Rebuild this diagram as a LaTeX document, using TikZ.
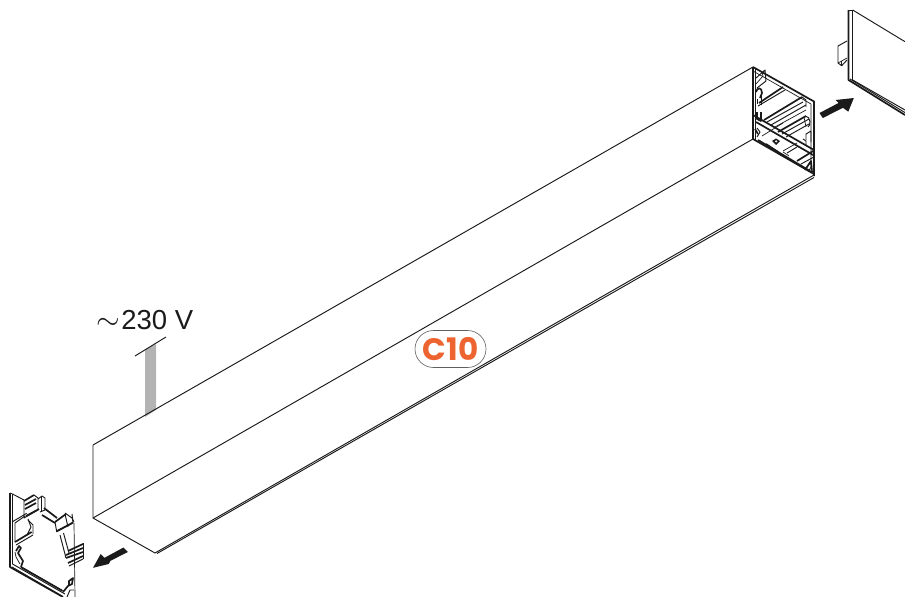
\documentclass[tikz,border=0pt]{standalone}
\usepackage{fontspec}
\setmainfont{Liberation Sans}
\newfontfamily\badge{Poppins}
\definecolor{accent}{HTML}{EE6431}
\definecolor{cable}{HTML}{B3B3B3}
\definecolor{ink}{HTML}{1A1A1A}
\tikzset{
  edgeline/.style={draw=ink,line width=0.95pt,line join=round},
  thinline/.style={draw=ink,line width=0.7pt,line join=round},
  thickline/.style={draw=ink,line width=1.7pt,line join=round},
  arrowfill/.style={fill=ink,draw=none},
}
\begin{document}
\begin{tikzpicture}[x=1pt,y=-1pt]
\useasboundingbox (0,0) rectangle (905,597);
\fill[white] (0,0) rectangle (905,597);
% cable
\fill[cable] (145,350) -- (156,344) -- (156,410) -- (145,417) -- cycle;
\draw[edgeline] (135,356) -- (166,337);
% profile body
\draw[edgeline] (93,445) -- (753,67);
\draw[edgeline] (93,518) -- (753,139);
\draw[edgeline] (93,445) -- (93,518) -- (155,553);
\draw[edgeline] (155,553) -- (814,175);
\draw[edgeline] (157,553.5) -- (814,177.5);
% end face frame
\draw[thickline] (753,67) -- (814,101.5) -- (814,176);
\draw[thickline] (753,67) -- (753,139) -- (814,174);
\draw[thinline] (755.5,69) -- (755.5,140);
\draw[thinline] (753,71) -- (811,104) -- (811,173);
\draw[thickline] (753,115) -- (814,150);
\draw[thickline] (756,122) -- (814,155.5);
\draw[thickline] (758,140) -- (810,171);
% upper clip
\draw[thinline] (756,84) -- (763,76) -- (762,72);
\draw[edgeline] (756,78) -- (765,70) -- (766,81) -- (757,88);
\draw[thickline] (756,92) .. controls (757,87) and (762,87) .. (762,93) -- (760,98);
\draw[thinline] (757,99) -- (757,104);
\draw[thinline] (761,92) -- (761,105);
\draw[edgeline] (758,106) -- (785,90);
\draw[thickline] (759,103) -- (783,87);
% middle webs
\draw[thickline] (757,112) -- (757,119) -- (761,121) -- (761,112);
\draw[thickline] (764,120) -- (802,97);
\draw[edgeline] (767,122) -- (803,102);
\draw[edgeline] (771,125) -- (806,105);
\draw[thinline] (775,127) -- (806,110);
\draw[edgeline] (802,97) -- (806,100) -- (806,107);
% roller
\draw[thickline] (778,132) -- (806,116);
\draw[edgeline] (782,134) -- (809,119);
\draw[edgeline] (786,137) -- (809,124);
\draw[edgeline] (805,116) .. controls (811,116) and (811,126) .. (808,127);
\draw[thinline] (804,117) -- (806,127);
% lower right clip
\draw[edgeline] (806,140) -- (806,134) -- (811,131) -- (811,142);
\draw[edgeline] (803,139) -- (806,141) -- (806,146);
\draw[edgeline] (787,153) -- (797,147);
\draw[thinline] (783,151) -- (797,143);
\draw[thickline] (797,161) -- (814,150.5);
\draw[edgeline] (801,164) -- (814,157);
% triangle
\draw[thickline] (805,170) -- (811,161) -- (812,172);
\draw[thinline] (808,172) -- (811,167);
% bottom plate
\draw[edgeline] (757,128) -- (760,132) -- (757,137);
\draw[thickline] (755,129) -- (758,134);
\draw[thinline] (762,136) -- (783,123);
\fill[ink] (772,141) -- (776,138.5) -- (780,141) -- (776,145) -- cycle;
\fill[white] (775,141.2) -- (776,140.3) -- (777.5,141.2) -- (776,142.5) -- cycle;
\draw[thickline] (766,144) -- (778,152);
\draw[thinline] (783,152) -- (789,156);
% right cap
\draw[thickline] (848.5,10) -- (848.5,80) -- (905,115);
\draw[edgeline] (848.5,10) -- (852.7,10);
\draw[edgeline] (852.7,10) -- (852.7,80);
\draw[edgeline] (852.7,10) -- (905,41.7);
\draw[edgeline] (852.7,80) -- (905,110);
\draw[edgeline] (850,79) -- (905,112.6);
\draw[edgeline] (847,41) -- (838,46) -- (838,63) -- (841.7,65.7) -- (847,60);
\draw[thinline] (841.7,61) -- (847,58);
\draw[thinline] (841.7,61) -- (841.7,65.7);
\draw[thinline] (838,63) -- (841.7,61);
% arrows
\fill[arrowfill] (819.5,113) -- (838.5,103) -- (835.7,100) -- (853.8,98) -- (848.3,111.7) -- (843,107.8) -- (822.8,118) -- cycle;
\fill[arrowfill] (123.5,547.5) -- (104.5,557.8) -- (100.7,554) -- (93,567.8) -- (108.7,564) -- (110.5,560.8) -- (127.8,552) -- cycle;
% left cap plate
\draw[thickline] (10,493) -- (10,567) -- (63,597);
\draw[thinline] (10,493) -- (12.5,494) -- (12.5,564);
\draw[edgeline] (12.5,494) -- (24,500);
\draw[edgeline] (12.5,564) -- (65,594);
\draw[edgeline] (12,567) -- (62,596);
\draw[thinline] (22,568) -- (63,591);
\draw[thickline] (21,567) -- (62,590.5);
% top clip
\draw[thickline] (24,501) -- (34,495);
\draw[thickline] (25,505) -- (36,499);
\draw[thickline] (25,509) -- (36,503);
\draw[edgeline] (24,500) -- (24,518) -- (38,510) -- (38,498) -- (34,495);
\draw[edgeline] (38,499) -- (42,496) -- (45,498) -- (45,510) -- (40,512);
\draw[thinline] (41,497) -- (41,511);
\draw[thickline] (26,516) -- (39,509);
\draw[edgeline] (12.5,521.7) -- (26.7,513.3);
\draw[edgeline] (15,542) -- (15,523) -- (25,516);
\draw[thickline] (15,542) -- (31.7,532);
\draw[edgeline] (16,545) -- (33,535);
\draw[edgeline] (33,534) -- (33,525) -- (28,520);
\draw[edgeline] (28,519) -- (31,527) -- (27,535);
% link rail
\draw[thickline] (44,508) -- (57,518);
\draw[thickline] (42,515) -- (55,523);
% right clip
\draw[thickline] (55,522) -- (66,514);
\draw[edgeline] (65,513) -- (72,518) -- (74,522);
\draw[edgeline] (55,522) -- (56.7,531.7) -- (73,523) -- (72,514);
\draw[thickline] (57,531) -- (73,522.5);
\draw[edgeline] (65,514) -- (68,527);
\draw[edgeline] (60,535) -- (66,558);
\draw[edgeline] (63.5,533) -- (69,553);
\draw[thinline] (74,523) -- (75,597);
% hatch
\draw[thickline] (68,551) -- (83,544);
\draw[thickline] (66,555) -- (83,548);
\draw[thickline] (66,558) -- (83,552);
\draw[thickline] (68,563) -- (83,556);
\draw[edgeline] (83,543) -- (83,559);
\draw[edgeline] (69,566) -- (83,559);
% spring lower left
\draw[thickline] (16,551) -- (19,546) -- (21,548) -- (18,553) -- (23,561) -- (21,567);
\draw[thinline] (15,552) -- (16,557) -- (20,564);
% lower right hook
\draw[thickline] (63,592) -- (68,586) -- (72,584) -- (73,578) -- (69,581) -- (69,586);
\draw[edgeline] (67,597) -- (70,590) -- (74,590);
% labels
\node[inner sep=0pt,text=ink,font=\fontsize{27.5}{27.5}\selectfont,anchor=base west] (voltage) at (96.5,329) {\scalebox{1.22}{$\sim$}\hspace{1pt}230 V};
\node[draw=ink!70,line width=0.6pt,rounded corners=18.5pt,minimum width=71pt,minimum height=37pt,inner sep=0pt,text=accent,fill=white,font=\badge\bfseries\fontsize{31}{31}\selectfont] (badge) at (450.5,349) {C10};
\end{tikzpicture}
\end{document}
